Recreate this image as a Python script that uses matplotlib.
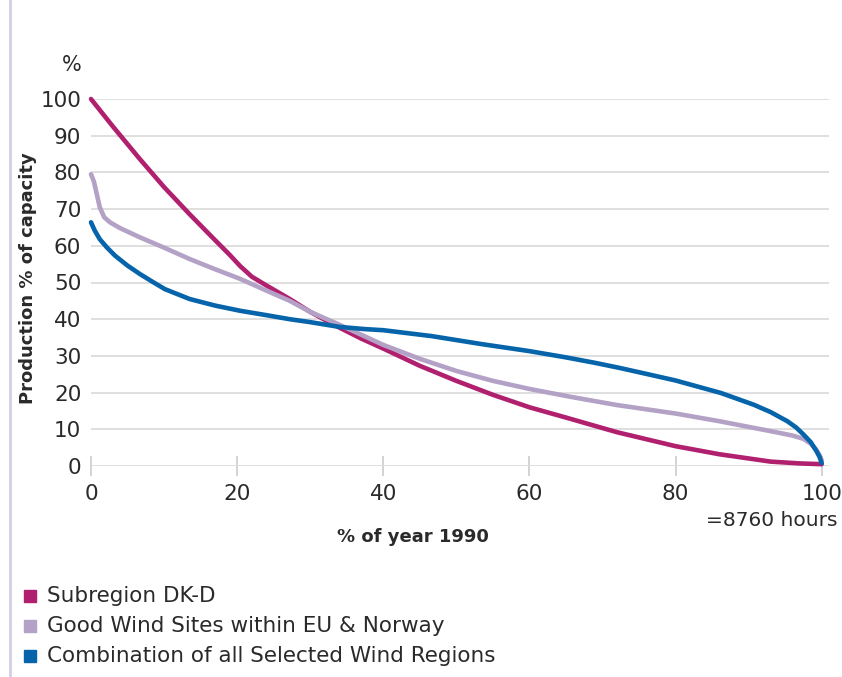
import matplotlib.pyplot as plt
from matplotlib.lines import Line2D
from matplotlib.patches import Rectangle

plt.rcParams['font.family'] = ['DejaVu Sans']

# duration curves, % of year vs production % of capacity
x_dk = [0, 3, 6.7, 10, 13.5, 17, 19, 20.4, 22, 24, 27.2, 30, 34, 37, 40, 45, 50, 55, 60, 65, 72, 80, 86, 93, 97, 100]
y_dk = [100, 92.5, 83.6, 76, 68.6, 61.5, 57.5, 54.5, 51.6, 49.2, 45.5, 42, 37.7, 34.7, 32, 27.3, 23.2, 19.4, 16, 13.2, 9.2, 5.4, 3.2, 1.2, 0.7, 0.5]

x_eu = [0, 0.4, 0.8, 1.2, 1.8, 2.6, 4, 6.7, 10, 13.5, 17, 20.4, 24, 27.2, 30, 34, 40, 45, 50, 55, 60, 65.5, 72, 80, 86, 93, 96, 97.5, 98.5, 99.2, 99.7, 100]
y_eu = [79.5, 77.5, 74, 70.5, 67.8, 66.4, 64.8, 62.3, 59.5, 56.4, 53.6, 51, 47.8, 45, 42, 38.5, 33, 29.2, 25.9, 23.2, 21, 18.9, 16.6, 14.3, 12.2, 9.5, 8.3, 7.4, 6.1, 4.6, 3, 1.5]

x_all = [0, 0.5, 1.2, 2.2, 3.3, 5, 6.7, 8.5, 10.1, 13.5, 17, 20.4, 24, 27.2, 30, 34, 37.5, 40, 46.6, 53.5, 60, 65, 69, 72.4, 76, 80, 86.2, 90.7, 93, 95.3, 96.5, 97.5, 98.5, 99.3, 99.7, 100]
y_all = [66.4, 64.2, 61.8, 59.5, 57.3, 54.6, 52.3, 50.1, 48.2, 45.5, 43.7, 42.3, 41.1, 40, 39.2, 37.9, 37.3, 37, 35.4, 33.2, 31.3, 29.6, 28.1, 26.7, 25.1, 23.3, 19.9, 16.7, 14.7, 12.2, 10.5, 8.6, 6.5, 4, 2.5, 0.8]

labels = ['Subregion DK-D', 'Good Wind Sites within EU & Norway', 'Combination of all Selected Wind Regions']
colors = ['#b0206e', '#b3a1c6', '#0564aa']

fig = plt.figure(figsize=(8.42, 6.77), dpi=100)
ax = fig.add_axes([91/842, 1-466/677, 738/842, 367/677])

for xs, ys, c in zip([x_dk, x_eu, x_all], [y_dk, y_eu, y_all], colors):
    ax.plot(xs, ys, color=c, lw=3.3, solid_capstyle='round', solid_joinstyle='round', clip_on=False, zorder=3)

ax.set_xlim(0, 101)
ax.set_ylim(0, 100)
ax.set_yticks(range(0, 101, 10))
ax.set_xticks(range(0, 101, 20))
ax.grid(axis='y', color='#dcdcdc', lw=1.3)
ax.set_axisbelow(True)
for s in ax.spines.values():
    s.set_visible(False)
ax.tick_params(axis='y', length=0, pad=7, labelsize=15.5, labelcolor='#2a2a2a')
ax.tick_params(axis='x', direction='inout', length=14, width=1.2, color='#cccccc', pad=6, labelsize=15.5, labelcolor='#2a2a2a')

fig.text(72/842, 1-65/677, '%', fontsize=15, ha='center', va='center', color='#2a2a2a')
fig.text(28/842, 1-278/677, 'Production % of capacity', rotation=90, fontsize=13, fontweight='bold',
         ha='center', va='center', color='#2a2a2a')
fig.text(413/842, 1-537/677, '% of year 1990', fontsize=13, fontweight='bold', ha='center', va='center', color='#2a2a2a')
fig.text(837/842, 1-520/677, '=8760 hours', fontsize=14.5, ha='right', va='center', color='#2a2a2a')

# left border rule
fig.add_artist(Line2D([10/842, 10/842], [0, 1], color='#d6cee6', lw=2))

# legend
for i, (lab, c) in enumerate(zip(labels, colors)):
    yc = 596 + 30*i
    fig.add_artist(Rectangle((24/842, 1-(yc+6)/677), 12/842, 12/677, color=c))
    fig.text(47/842, 1-yc/677, lab, fontsize=15.5, ha='left', va='center', color='#2a2a2a')

fig.savefig('out.png', dpi=100)
